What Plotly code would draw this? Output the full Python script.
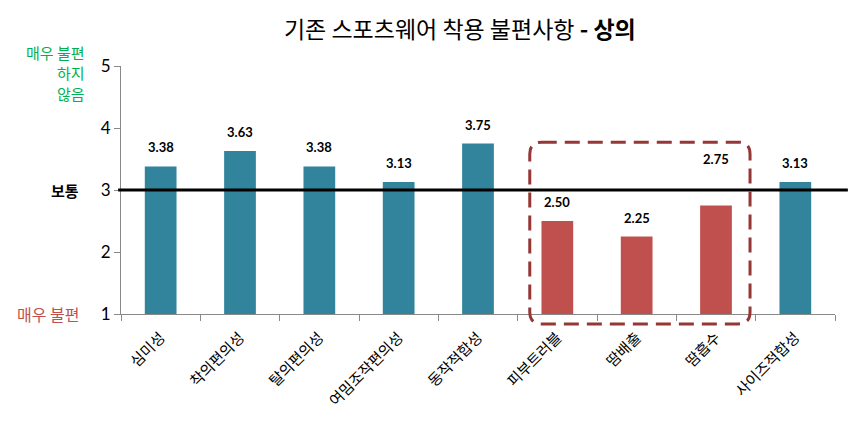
import plotly.graph_objects as go

categories = ["심미성", "착의편의성", "탈의편의성", "여밈조작편의성", "동작적합성",
              "피부트러블", "땀배출", "땀흡수", "사이즈적합성"]
values = [3.38, 3.63, 3.38, 3.13, 3.75, 2.50, 2.25, 2.75, 3.13]
value_labels = ["3.38", "3.63", "3.38", "3.13", "3.75", "2.50", "2.25", "2.75", "3.13"]
highlighted = [False, False, False, False, False, True, True, True, False]
y_ticks = [1, 2, 3, 4, 5]
top_label_lines = ["매우 불편", "하지", "않음"]

TEAL = "#31849B"
RED = "#C0504D"
KFONT = "Noto Sans CJK KR"

colors = [RED if h else TEAL for h in highlighted]
label_shift = {"땀흡수": 28}

fig = go.Figure()
fig.add_trace(go.Bar(x=categories, y=[v - 1 for v in values], base=1,
                     marker=dict(color=colors, line=dict(width=0)),
                     hoverinfo="skip"))

for c, v, t in zip(categories, values, value_labels):
    fig.add_annotation(x=c, y=v, text=f"<b>{t}</b>", showarrow=False,
                       yanchor="bottom", yshift=9 + label_shift.get(c, 0),
                       font=dict(family="Lato, Liberation Sans", size=13, color="#000"))

# reference line at 3 (보통)
fig.add_shape(type="line", xref="paper", yref="y", x0=-0.004, x1=1.018, y0=3, y1=3,
              line=dict(color="black", width=3), layer="above")

# dashed rounded highlight box
x0, x1 = 0.5725, 0.881
y0, y1 = -0.04, 0.693
rx, ry = 0.0168, 0.0478
path = (f"M {x0+rx},{y1} L {x1-rx},{y1} Q {x1},{y1} {x1},{y1-ry} "
        f"L {x1},{y0+ry} Q {x1},{y0} {x1-rx},{y0} "
        f"L {x0+rx},{y0} Q {x0},{y0} {x0},{y0+ry} "
        f"L {x0},{y1-ry} Q {x0},{y1} {x0+rx},{y1} Z")
fig.add_shape(type="path", xref="paper", yref="paper", path=path,
              line=dict(color="#953735", width=3, dash="15px,8px"), layer="above")

# side annotations
for i, line in enumerate(top_label_lines):
    fig.add_annotation(xref="paper", yref="paper", x=-0.048, y=1.0, xanchor="right",
                       yanchor="middle", text=line, showarrow=False,
                       yshift=14 - 20.5 * i,
                       font=dict(family=KFONT, size=15, color="#00B050"))
fig.add_annotation(xref="paper", yref="y", x=-0.056, y=3, xanchor="right", yanchor="middle",
                   text="<b>보통</b>", showarrow=False,
                   font=dict(family=KFONT, size=15, color="black"))
fig.add_annotation(xref="paper", yref="y", x=-0.056, y=1, xanchor="right", yanchor="middle",
                   text="매우 불편", showarrow=False,
                   font=dict(family=KFONT, size=16, color=RED))

fig.update_layout(
    width=850, height=422,
    margin=dict(l=121, r=15, t=66, b=105),
    paper_bgcolor="white", plot_bgcolor="white",
    showlegend=False,
    bargap=0.6,
    title=dict(text="기존 스포츠웨어 착용 불편사항 <b>- 상의</b>", x=0.541, xanchor="center",
               y=0.93, yanchor="middle",
               font=dict(family=KFONT, size=23, color="black")),
    xaxis=dict(type="category", showline=True, linecolor="#898989", linewidth=1,
               ticks="outside", tickson="boundaries", ticklen=6, tickcolor="#898989",
               tickangle=-45, showgrid=False, ticklabelstandoff=8,
               tickfont=dict(family=KFONT, size=15, color="black")),
    yaxis=dict(range=[1, 5], tickvals=y_ticks, showline=True, linecolor="#898989", linewidth=1,
               ticks="outside", ticklen=6, tickcolor="#898989", showgrid=False, zeroline=False,
               tickfont=dict(family="Lato, Liberation Sans", size=17, color="black")),
)

fig.write_html("out.html")
